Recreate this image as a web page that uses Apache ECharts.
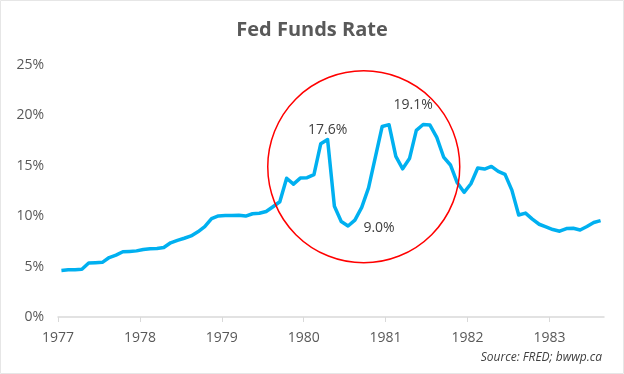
<!DOCTYPE html>
<html>
<head>
<meta charset="utf-8">
<script src="https://cdn.jsdelivr.net/npm/echarts@6/dist/echarts.min.js"></script>
<style>
html,body{margin:0;padding:0;background:#fff;}
#c{width:624px;height:374px;}
</style>
</head>
<body>
<div id="c"></div>
<script>
// Monthly Fed Funds Rate, Jan 1977 - Aug 1983 (%)
const yearLabels = ['1977','1978','1979','1980','1981','1982','1983'];
const rates = [
  4.61, 4.68, 4.69, 4.73, 5.35, 5.39, 5.42, 5.90, 6.14, 6.47, 6.51, 6.56,
  6.70, 6.78, 6.79, 6.89, 7.36, 7.60, 7.81, 8.04, 8.45, 8.96, 9.76, 10.03,
  10.07, 10.06, 10.09, 10.01, 10.24, 10.29, 10.47, 10.94, 11.43, 13.77, 13.18, 13.78,
  13.82, 14.13, 17.19, 17.61, 10.98, 9.47, 9.03, 9.61, 10.87, 12.81, 15.85, 18.90,
  19.08, 15.93, 14.70, 15.72, 18.52, 19.10, 19.04, 17.82, 15.87, 15.08, 13.31, 12.37,
  13.22, 14.78, 14.68, 14.94, 14.45, 14.15, 12.59, 10.12, 10.31, 9.71, 9.20, 8.95,
  8.68, 8.51, 8.77, 8.80, 8.63, 8.98, 9.37, 9.56
];
const yTicks = [0, 5, 10, 15, 20, 25];
// annotated points: month index + label text
const annIdx = [39, 53, 42];
const annText = ['17.6%', '19.1%', '9.0%'];
const annOffset = [[0, -9], [-10, -19], [31, 2]];
// circle highlight (center in data coordinates: month index, rate)
const circleCenter = [44.8, 14.9];
const circleRadius = 96;

const seriesData = rates.map((v, i) => [i + 0.5, v]);
const markData = annIdx.map((idx, k) => ({
  coord: [idx + 0.5, rates[idx]],
  symbol: 'circle',
  symbolSize: 1,
  itemStyle: {color: 'rgba(0,0,0,0)'},
  label: {
    show: true,
    formatter: annText[k],
    position: 'inside',
    offset: annOffset[k],
    color: '#404040',
    fontSize: 14,
    fontFamily: 'Open Sans'
  }
}));

const chart = echarts.init(document.getElementById('c'), null, {renderer: 'canvas'});
const option = {
  animation: false,
  backgroundColor: '#fff',
  title: {
    text: 'Fed Funds Rate',
    left: 'center',
    top: 15,
    textStyle: {color: '#595959', fontSize: 20, fontWeight: 'bold', fontFamily: 'Open Sans'}
  },
  grid: {left: 58, right: 20, top: 65, bottom: 57, containLabel: false},
  xAxis: {
    type: 'value',
    min: 0,
    max: rates.length,
    interval: 12,
    axisLine: {show: true, lineStyle: {color: '#d9d9d9', width: 1.5}},
    axisTick: {show: true, length: 5, lineStyle: {color: '#d9d9d9'}},
    splitLine: {show: false},
    axisLabel: {
      color: '#595959', fontSize: 14, fontFamily: 'Open Sans', margin: 14,
      showMaxLabel: false,
      formatter: v => {
        const k = Math.round(v / 12);
        return (v % 12 === 0 && k < yearLabels.length) ? yearLabels[k] : '';
      }
    }
  },
  yAxis: {
    type: 'value',
    min: yTicks[0],
    max: yTicks[yTicks.length - 1],
    interval: yTicks[1] - yTicks[0],
    axisLine: {show: false},
    axisTick: {show: false},
    splitLine: {show: false},
    axisLabel: {color: '#595959', fontSize: 14, fontFamily: 'Open Sans', margin: 14, formatter: '{value}%'}
  },
  series: [{
    type: 'line',
    data: seriesData,
    showSymbol: false,
    symbol: 'none',
    lineStyle: {color: '#00B0F0', width: 3.5, join: 'round'},
    itemStyle: {color: '#00B0F0'},
    markPoint: {silent: true, animation: false, data: markData}
  }]
};
chart.setOption(option);

const cp = chart.convertToPixel({gridIndex: 0}, circleCenter);
chart.setOption({
  graphic: [
    {type: 'rect', shape: {x: 0.5, y: 0.5, width: 623, height: 373}, style: {fill: 'none', stroke: '#e6e6e6', lineWidth: 1}, silent: true},
    {type: 'circle', shape: {cx: cp[0], cy: cp[1], r: circleRadius}, style: {fill: 'none', stroke: '#ff0000', lineWidth: 1.5}, silent: true, z: 10},
    {type: 'text', right: 22, top: 352, style: {text: 'Source: FRED; bwwp.ca', fill: '#404040', font: 'italic 12px "Open Sans"'}}
  ]
});
</script>
</body>
</html>
